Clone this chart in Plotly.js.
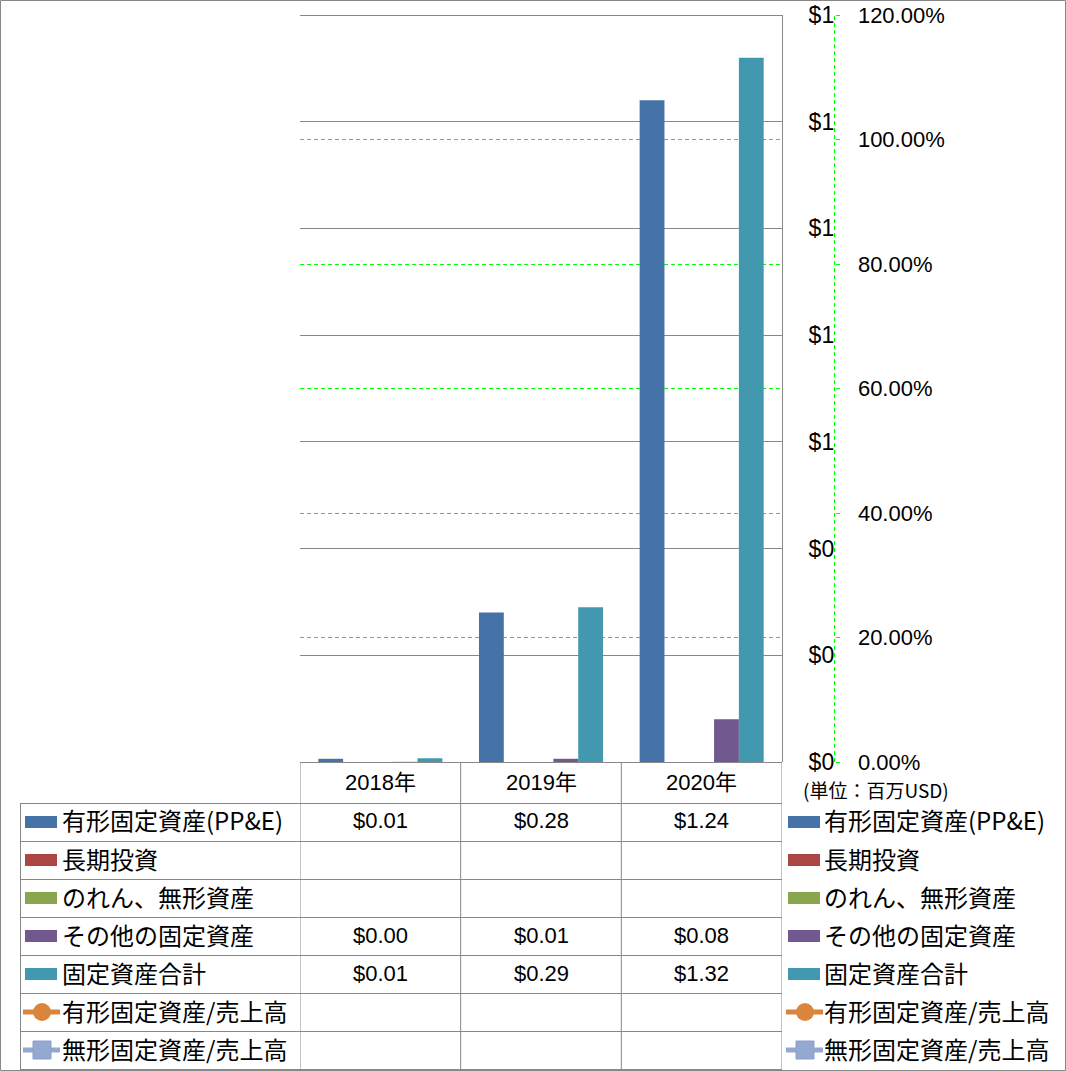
<!DOCTYPE html>
<html>
<head>
<meta charset="utf-8">
<script src="https://cdn.plot.ly/plotly-3.0.1.min.js"></script>
<style>html,body{margin:0;padding:0;background:#fff;}#chart{width:1066px;height:1071px;}</style>
</head>
<body>
<div id="chart"></div>
<script>
// ---- data ----
const categories = ['2018年', '2019年', '2020年'];
const seriesNames = ['有形固定資産(PP&E)', '長期投資', 'のれん、無形資産', 'その他の固定資産', '固定資産合計', '有形固定資産/売上高', '無形固定資産/売上高'];
const ppe = [0.006, 0.28, 1.24];
const longTermInvest = [null, null, null];
const goodwillIntangible = [null, null, null];
const otherFixed = [0.0003, 0.006, 0.08];
const totalFixed = [0.007, 0.29, 1.32];
const ppeToSales = [null, null, null];
const intangibleToSales = [null, null, null];
const seriesColors = ['#4572A7', '#AA4643', '#89A54E', '#71588F', '#4198AF', '#DB843D', '#93A9CF'];
const unitLabel = '(単位：百万USD)';

// ---- layout helpers ----
const W = 1066, H = 1071;
const px = v => v / W;
const py = v => (H - v) / H;
const plotLeft = 300, plotRight = 782, plotTop = 15, plotBottom = 762;
const rowTop = 803, rowH = 38;
const gray = '#888888';
const numFont = 'Liberation Sans, Noto Sans CJK JP, sans-serif';
const jpFont = 'Noto Sans CJK JP, sans-serif';

const barSeries = [ppe, longTermInvest, goodwillIntangible, otherFixed, totalFixed];
const lineSeries = [ppeToSales, intangibleToSales];
const allSeries = barSeries.concat(lineSeries);

const traces = [];
barSeries.forEach((vals, i) => {
  traces.push({
    type: 'bar', name: seriesNames[i], x: categories, y: vals,
    marker: {color: seriesColors[i]}, yaxis: 'y', hoverinfo: 'skip'
  });
});
lineSeries.forEach((vals, j) => {
  const i = barSeries.length + j;
  traces.push({
    type: 'scatter', mode: 'lines+markers', name: seriesNames[i], x: categories, y: vals,
    line: {color: seriesColors[i], width: 4},
    marker: {color: seriesColors[i], size: 12, symbol: j === 0 ? 'circle' : 'square'},
    yaxis: 'y2', hoverinfo: 'skip'
  });
});

const shapes = [];
const annotations = [];

// outer border
shapes.push({type: 'rect', xref: 'paper', yref: 'paper', x0: px(0.5), x1: px(1065.5), y0: py(1070.5), y1: py(0.5), line: {color: gray, width: 1}});
// plot top border
shapes.push({type: 'line', xref: 'paper', yref: 'paper', x0: px(plotLeft), x1: px(plotRight), y0: py(plotTop + 0.5), y1: py(plotTop + 0.5), line: {color: gray, width: 1}});
// secondary axis dashed line
shapes.push({type: 'line', xref: 'paper', yref: 'paper', x0: px(834.5), x1: px(834.5), y0: py(plotBottom), y1: py(plotTop), line: {color: '#00ff00', width: 1, dash: '4px,3px'}});

// data table
const nRows = seriesNames.length;
const tableBottom = rowTop + rowH * nRows;
shapes.push({type: 'line', xref: 'x', yref: 'paper', x0: -0.5, x1: categories.length - 0.5, y0: py(plotBottom + 0.5), y1: py(plotBottom + 0.5), line: {color: gray, width: 1}});
for (let r = 0; r <= nRows; r++) {
  const yy = rowTop + r * rowH + 0.5;
  shapes.push({type: 'line', xref: 'paper', yref: 'paper', x0: px(20), x1: px(plotRight), y0: py(yy), y1: py(yy), line: {color: gray, width: 1}});
}
for (let c = 0; c <= categories.length; c++) {
  shapes.push({type: 'line', xref: 'x', yref: 'paper', x0: c - 0.5, x1: c - 0.5, y0: py(plotBottom), y1: py(tableBottom), line: {color: gray, width: 1}});
}
shapes.push({type: 'line', xref: 'paper', yref: 'paper', x0: px(20.5), x1: px(20.5), y0: py(rowTop), y1: py(tableBottom), line: {color: gray, width: 1}});

// header labels
categories.forEach((c, i) => {
  annotations.push({xref: 'x', yref: 'paper', x: i, y: py(782), text: c, showarrow: false, xanchor: 'center', yanchor: 'middle', font: {family: numFont, size: 22, color: '#000'}});
});

function legendKey(x0, yc, i) {
  if (i < barSeries.length) {
    shapes.push({type: 'rect', xref: 'paper', yref: 'paper', x0: px(x0), x1: px(x0 + 32), y0: py(yc + 6), y1: py(yc - 6), fillcolor: seriesColors[i], line: {width: 0}});
  } else {
    shapes.push({type: 'line', xref: 'paper', yref: 'paper', x0: px(x0 - 2), x1: px(x0 + 35), y0: py(yc), y1: py(yc), line: {color: seriesColors[i], width: 5}});
    if (i === barSeries.length) {
      shapes.push({type: 'circle', xref: 'paper', yref: 'paper', x0: px(x0 + 8), x1: px(x0 + 26), y0: py(yc + 9), y1: py(yc - 9), fillcolor: seriesColors[i], line: {width: 0}});
    } else {
      shapes.push({type: 'rect', xref: 'paper', yref: 'paper', x0: px(x0 + 8), x1: px(x0 + 26), y0: py(yc + 9), y1: py(yc - 9), fillcolor: seriesColors[i], line: {color: '#8aa0c8', width: 1}});
    }
  }
}

seriesNames.forEach((name, i) => {
  const yc = rowTop + i * rowH + rowH / 2;
  legendKey(25, yc, i);
  annotations.push({xref: 'paper', yref: 'paper', x: px(60), y: py(yc - 2), text: name, showarrow: false, xanchor: 'left', yanchor: 'middle', font: {family: jpFont, size: 24, color: '#000'}});
  legendKey(788, yc, i);
  annotations.push({xref: 'paper', yref: 'paper', x: px(822), y: py(yc - 2), text: name, showarrow: false, xanchor: 'left', yanchor: 'middle', font: {family: jpFont, size: 24, color: '#000'}});
  allSeries[i].forEach((v, k) => {
    if (v === null || v === undefined) return;
    annotations.push({xref: 'x', yref: 'paper', x: k, y: py(yc - 1), text: '$' + v.toFixed(2), showarrow: false, xanchor: 'center', yanchor: 'middle', font: {family: numFont, size: 22, color: '#000'}});
  });
});

annotations.push({xref: 'paper', yref: 'paper', x: px(801), y: py(789), text: unitLabel, showarrow: false, xanchor: 'left', yanchor: 'middle', font: {family: jpFont, size: 19, color: '#000'}});

const layout = {
  width: W, height: H,
  margin: {l: 0, r: 0, t: 0, b: 0, pad: 0},
  paper_bgcolor: '#ffffff', plot_bgcolor: '#ffffff',
  showlegend: false,
  barmode: 'group', bargap: 0.228, bargroupgap: 0,
  xaxis: {
    domain: [px(plotLeft), px(plotRight)], type: 'category', range: [-0.5, 2.5],
    showticklabels: false, showgrid: false, zeroline: false, showline: false, ticks: '', fixedrange: true
  },
  yaxis: {
    domain: [py(plotBottom), py(plotTop)], range: [0, 1.4], dtick: 0.2, tick0: 0,
    side: 'right', tickprefix: '$', tickformat: '.0f',
    showgrid: true, gridcolor: gray, gridwidth: 1, zeroline: false,
    showline: true, linecolor: gray, linewidth: 1, ticks: '',
    ticklabelstandoff: 21,
    tickfont: {family: numFont, size: 23, color: '#000'}, fixedrange: true
  },
  yaxis2: {
    overlaying: 'y', anchor: 'free', position: px(834.5), side: 'right',
    range: [0, 1.2], dtick: 0.2, tick0: 0, tickformat: '.2%',
    showgrid: true, gridcolor: '#00ff00', gridwidth: 1, griddash: '4px,3px', zeroline: false,
    showline: false, ticks: 'outside', ticklen: 4, tickcolor: '#00ff00',
    ticklabelstandoff: 14,
    tickfont: {family: numFont, size: 22, color: '#000'}, fixedrange: true
  },
  shapes: shapes,
  annotations: annotations
};

Plotly.newPlot('chart', traces, layout, {staticPlot: true, displayModeBar: false});
</script>
</body>
</html>
